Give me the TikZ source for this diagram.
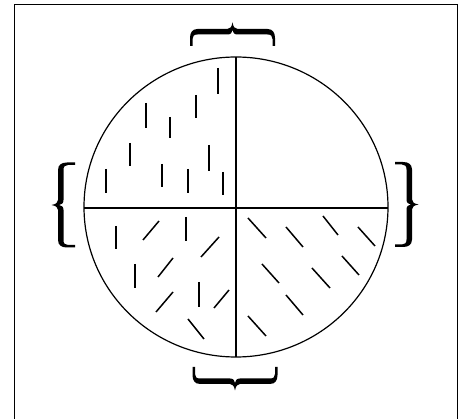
\documentclass[tikz,border=0pt]{standalone}
\usetikzlibrary{decorations.pathreplacing}
\newcommand\mybracefill{%
  \fill (-42.5,0) -- (-42.5,-8) .. controls (-42.5,-13) and (-40.5,-17) .. (-35,-17)
    -- (-5,-17) .. controls (-2.5,-17) and (-0.8,-19) .. (0,-23.5)
    .. controls (0.8,-19) and (2.5,-17) .. (5,-17)
    -- (35,-17) .. controls (40.5,-17) and (42.5,-13) .. (42.5,-8) -- (42.5,0)
    -- (40,0) -- (40,-7) .. controls (40,-10) and (38.5,-11.5) .. (35,-11.5)
    -- (5,-11.5) .. controls (1.5,-11.5) and (0.4,-13.5) .. (0,-16)
    .. controls (-0.4,-13.5) and (-1.5,-11.5) .. (-5,-11.5)
    -- (-35,-11.5) .. controls (-38.5,-11.5) and (-40,-10) .. (-40,-7) -- (-40,0) -- cycle;}
\begin{document}
\begin{tikzpicture}[x=1pt,y=-1pt,
  outline/.style={line width=1.2pt},
  axis/.style={line width=1.5pt},
  hatch/.style={line width=1.5pt}]
\useasboundingbox (0,0) rectangle (464,419);
\clip (0,0) rectangle (464,419);
\fill[white] (0,0) rectangle (464,419);
% frame (bottom edge is cut off)
\draw[line width=1pt] (14,425) -- (14,5) -- (457,5) -- (457,425);
% circle and cross
\coordinate (c) at (236,207);
\draw[outline] (c) ellipse [x radius=152, y radius=150];
\coordinate (top) at (236,57);
\coordinate (bot) at (236,357);
\coordinate (lft) at (84,208);
\coordinate (rgt) at (388,208);
\draw[axis] (top) -- (bot);
\draw[axis] (lft) -- (rgt);
% braces
\begin{scope}[shift={(232.5,46)}] \mybracefill \end{scope}
\begin{scope}[shift={(235,367)},rotate=180] \mybracefill \end{scope}
\begin{scope}[shift={(75,205)},rotate=90] \mybracefill \end{scope}
\begin{scope}[shift={(395,204.5)},rotate=-90] \mybracefill \end{scope}
% upper-left quadrant: vertical dashes
\foreach \x/\ya/\yb in {218/68/94, 196/95/118, 146/103/128, 170/117/138, 130/143/166,
  209/145/171, 106/169/193, 162/164/187, 188/169/193, 223/172/195}
  \draw[hatch] (\x,\ya) -- (\x,\yb);
% lower-left quadrant
\foreach \x/\ya/\yb in {116/226/249, 186/217/241, 135/264/288, 199/282/307}
  \draw[hatch] (\x,\ya) -- (\x,\yb);
\foreach \xa/\ya/\xb/\yb in {143/240/159/221, 201/257/219/237, 158/277/173/258,
  156/312/173/292, 214/308/229/290, 188/319/204/339}
  \draw[hatch] (\xa,\ya) -- (\xb,\yb);
% lower-right quadrant
\foreach \xa/\ya/\xb/\yb in {248/218/266/238, 286/227/303/247, 323/216/338/235,
  358/227/375/246, 262/264/279/283, 312/268/330/288, 342/256/359/275,
  286/295/303/315, 248/316/266/336}
  \draw[hatch] (\xa,\ya) -- (\xb,\yb);
\end{tikzpicture}
\end{document}
